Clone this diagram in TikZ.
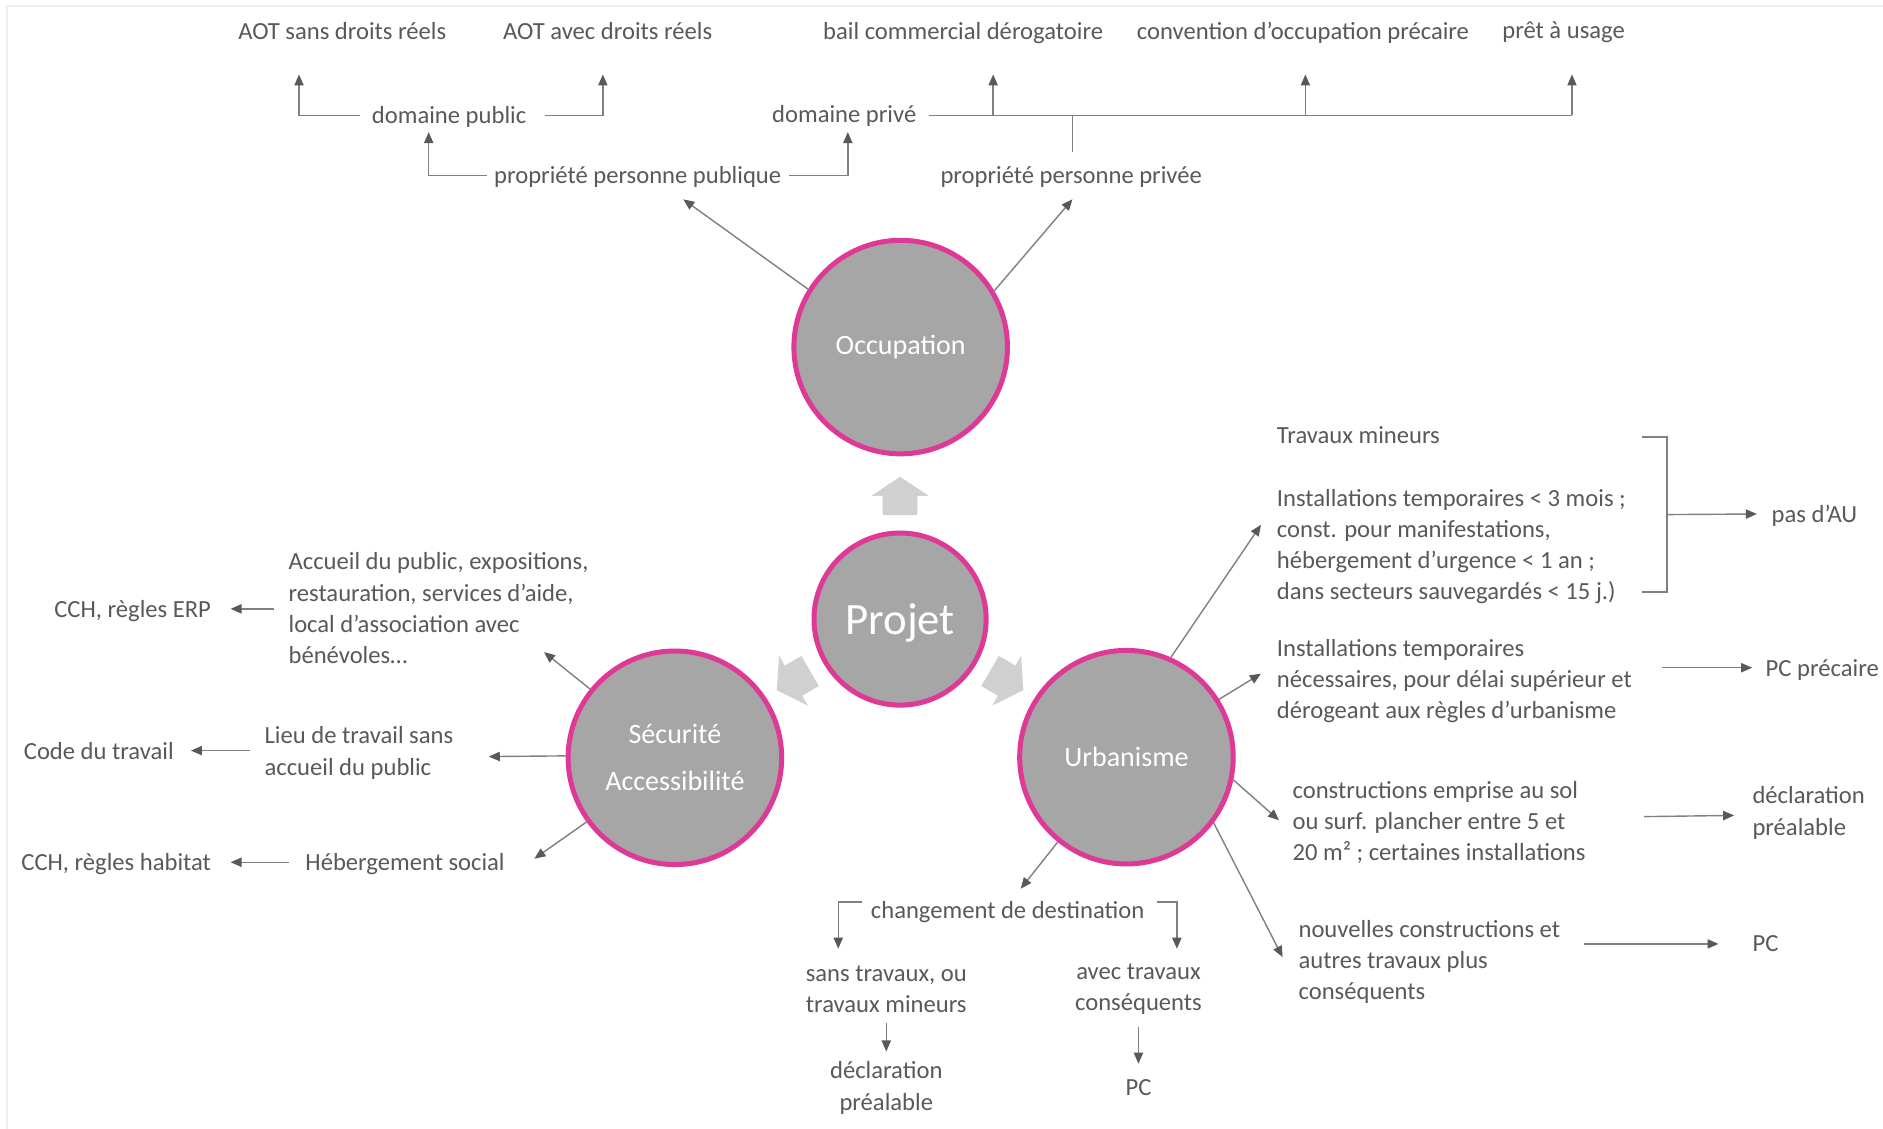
\documentclass[tikz,border=0pt]{standalone}
\usepackage{fontspec}
\setmainfont{Carlito}
\usetikzlibrary{arrows.meta,calc}
\definecolor{txtc}{HTML}{595959}
\definecolor{linec}{HTML}{808080}
\definecolor{tipc}{HTML}{595959}
\definecolor{pinkc}{HTML}{DE3996}
\definecolor{circf}{HTML}{A6A6A6}
\definecolor{blockc}{HTML}{D0D0D0}
\definecolor{framec}{HTML}{EFEFEF}
\begin{document}
\begin{tikzpicture}[x=0.6pt,y=-0.6pt,
 txt/.style={inner sep=0pt, text=txtc, font=\fontsize{12.3}{15.6}\selectfont},
 txtone/.style={txt, text height=11.1pt, text depth=2.6pt},
 ln/.style={draw=linec, line width=0.7pt},
 arr/.style={ln, -{Triangle[length=5.5pt,width=4.6pt,color=tipc]}},
 big/.style={circle, draw=pinkc, line width=2.5pt, fill=circf, text=white, inner sep=0pt,
   minimum size=106.7pt, font=\fontsize{14}{23.4}\selectfont, align=center},
 blk/.style={fill=blockc, draw=none}]

\useasboundingbox (0,0) rectangle (1568,940);
\fill[white] (0,0) rectangle (1568,940);
\draw[framec, line width=1pt] (6,940) -- (6,5) -- (1568,5);

% ---------- circles ----------
\node[big] (occ) at (750,289) {Occupation};
\node[big, minimum size=86pt, text depth=0pt, font=\fontsize{22.4}{26}\selectfont] (proj) at (749.5,515.5) {Projet};
\node[big] (sec) at (562,631) {Sécurité\\Accessibilité};
\node[big] (urb) at (938,630.5) {Urbanisme};

% ---------- block arrows ----------
\foreach \a in {0,120,-120}{
  \begin{scope}[shift={(proj.center)}, rotate=\a]
    \fill[blk] (0,-118.5) -- (24,-102.5) -- (14.5,-102.5) -- (14.5,-86.5)
      -- (-14.5,-86.5) -- (-14.5,-102.5) -- (-24,-102.5) -- cycle;
  \end{scope}}

% ---------- top: occupation ----------
\node[txtone] (aot1) at (285,26) {AOT sans droits réels};
\node[txtone] (aot2) at (506,26) {AOT avec droits réels};
\node[txtone] (bail) at (802,26) {bail commercial dérogatoire};
\node[txtone] (conv) at (1085,26) {convention d’occupation précaire};
\node[txtone] (pret) at (1302,25) {prêt à usage};
\node[txtone] (dpub) at (374,96) {domaine public};
\node[txtone] (dpriv) at (703,95) {domaine privé};
\node[txtone] (ppub) at (531,146) {propriété personne publique};
\node[txtone] (ppriv) at (892,146) {propriété personne privée};

\coordinate (ta1) at (249,62);
\coordinate (ta2) at (502,62);
\coordinate (tb) at (827,62);
\coordinate (tc) at (1087,62);
\coordinate (tp) at (1309,62);
\coordinate (tdp) at (357,110);
\coordinate (tdv) at (706,110);
\coordinate (tpp) at (569,166);
\coordinate (tpv) at (893,166);

\draw[arr] ($(dpub.west)+(-10,0)$) -| (ta1);
\draw[arr] ($(dpub.east)+(15,0)$) -| (ta2);
\draw[ln] ($(dpriv.east)+(10,1)$) coordinate (h0) -- (h0 -| tp);
\draw[arr] (h0 -| tb) -- (tb);
\draw[arr] (h0 -| tc) -- (tc);
\draw[arr] (h0 -| tp) -- (tp);
\draw[ln] ($(ppriv.north)+(1,-8)$) coordinate (pv) -- (pv |- h0);
\draw[arr] ($(ppub.west)+(-6,0)$) -| (tdp);
\draw[arr] ($(ppub.east)+(6,0)$) -| (tdv);
\draw[arr] (occ.148) -- (tpp);
\draw[arr] (occ.31) -- (tpv);

% ---------- left: securite ----------
\node[txt, align=left, anchor=west] (acc) at (240,506.5) {Accueil du public, expositions,\\restauration, services d’aide,\\local d’association avec\\bénévoles…};
\node[txtone, anchor=east] (erp) at (176,507) {CCH, règles ERP};
\node[txt, align=left, anchor=west] (lieu) at (220,627) {Lieu de travail sans\\accueil du public};
\node[txtone, anchor=east] (code) at (145,625) {Code du travail};
\node[txtone, anchor=west] (heb) at (254,718) {Hébergement social};
\node[txtone, anchor=east] (cchh) at (176,718) {CCH, règles habitat};

\draw[arr] ($(erp.east)+(52,0)$) -- ($(erp.east)+(16,0)$);
\draw[arr] ($(code.east)+(63,0)$) -- ($(code.east)+(14,0)$);
\draw[arr] ($(heb.west)+(-13,0)$) -- ($(cchh.east)+(16,0)$);

\coordinate (tacc) at (453,543);
\coordinate (tlieu) at (407,630);
\coordinate (theb) at (445,715);
\draw[arr] (sec.141) -- (tacc);
\draw[arr] (sec.179) -- (tlieu);
\draw[arr] (sec.216) -- (theb);

% ---------- right: urbanisme ----------
\node[txtone, anchor=west] (trav) at (1063,362) {Travaux mineurs};
\node[txt, align=left, anchor=west] (inst1) at (1063,455) {Installations temporaires < 3 mois ;\\const. pour manifestations,\\hébergement d’urgence < 1 an ;\\dans secteurs sauvegardés < 15 j.)};
\node[txtone, anchor=west] (pau) at (1475,428) {pas d’AU};
\node[txt, align=left, anchor=west] (inst2) at (1063,567) {Installations temporaires\\nécessaires, pour délai supérieur et\\dérogeant aux règles d’urbanisme};
\node[txtone, anchor=west] (pcp) at (1470,556) {PC précaire};
\node[txt, align=left, anchor=west] (cons) at (1076,685) {constructions emprise au sol\\ou surf. plancher entre 5 et\\20 m² ; certaines installations};
\node[txt, align=left, anchor=west] (dp1) at (1459,677) {déclaration\\préalable};
\node[txt, align=left, anchor=west] (nouv) at (1081,801) {nouvelles constructions et\\autres travaux plus\\conséquents};
\node[txtone, anchor=west] (pc1) at (1459,785) {PC};

\coordinate (bt) at (1367,364);
\coordinate (bb) at (1367,493);
\draw[ln] (bt) -- ++(21,0) coordinate (br) |- (bb);
\path (bb -| br) coordinate (bbr);
\draw[arr] ($(br)!0.5!(bbr)$) -- ($(pau.west)+(-12,0)$);
\draw[arr] ($(pcp.west)+(-86,0)$) -- ($(pcp.west)+(-11,0)$);
\draw[arr] ($(dp1.west)+(-90,3)$) -- ($(dp1.west)+(-15,2)$);
\draw[arr] ($(pc1.west)+(-140,1)$) -- ($(pc1.west)+(-28,1)$);

\coordinate (tu1) at (1050,437);
\coordinate (tu2) at (1050,561);
\coordinate (tu3) at (1065,683);
\coordinate (tu4) at (1068,797);
\coordinate (tu5) at (850,740);
\draw[arr] (urb.66) -- (tu1);
\draw[arr] (urb.32) -- (tu2);
\draw[arr] (urb.-12) -- (tu3);
\draw[arr] (urb.-37) -- (tu4);
\draw[arr] (urb.231) -- (tu5);

% ---------- bottom ----------
\node[txtone] (chg) at (839,758) {changement de destination};
\node[txt, align=center] (sans) at (738,824) {sans travaux, ou\\travaux mineurs};
\node[txt, align=center] (avec) at (948,824) {avec travaux\\conséquents};
\node[txt, align=center] (dp2) at (738,906) {déclaration\\préalable};
\node[txtone] (pc2) at (948,905) {PC};

\coordinate (tsa) at (698,790);
\coordinate (tav) at (980,790);
\draw[arr] ($(chg.west)+(-7,-7)$) -| (tsa);
\draw[arr] ($(chg.east)+(10,-7)$) -| (tav);
\draw[arr, shorten <=5pt, shorten >=5pt] (sans.south) -- (dp2.north);
\draw[arr, shorten <=6pt, shorten >=4.5pt] (avec.south) -- (pc2.north);
\end{tikzpicture}
\end{document}
